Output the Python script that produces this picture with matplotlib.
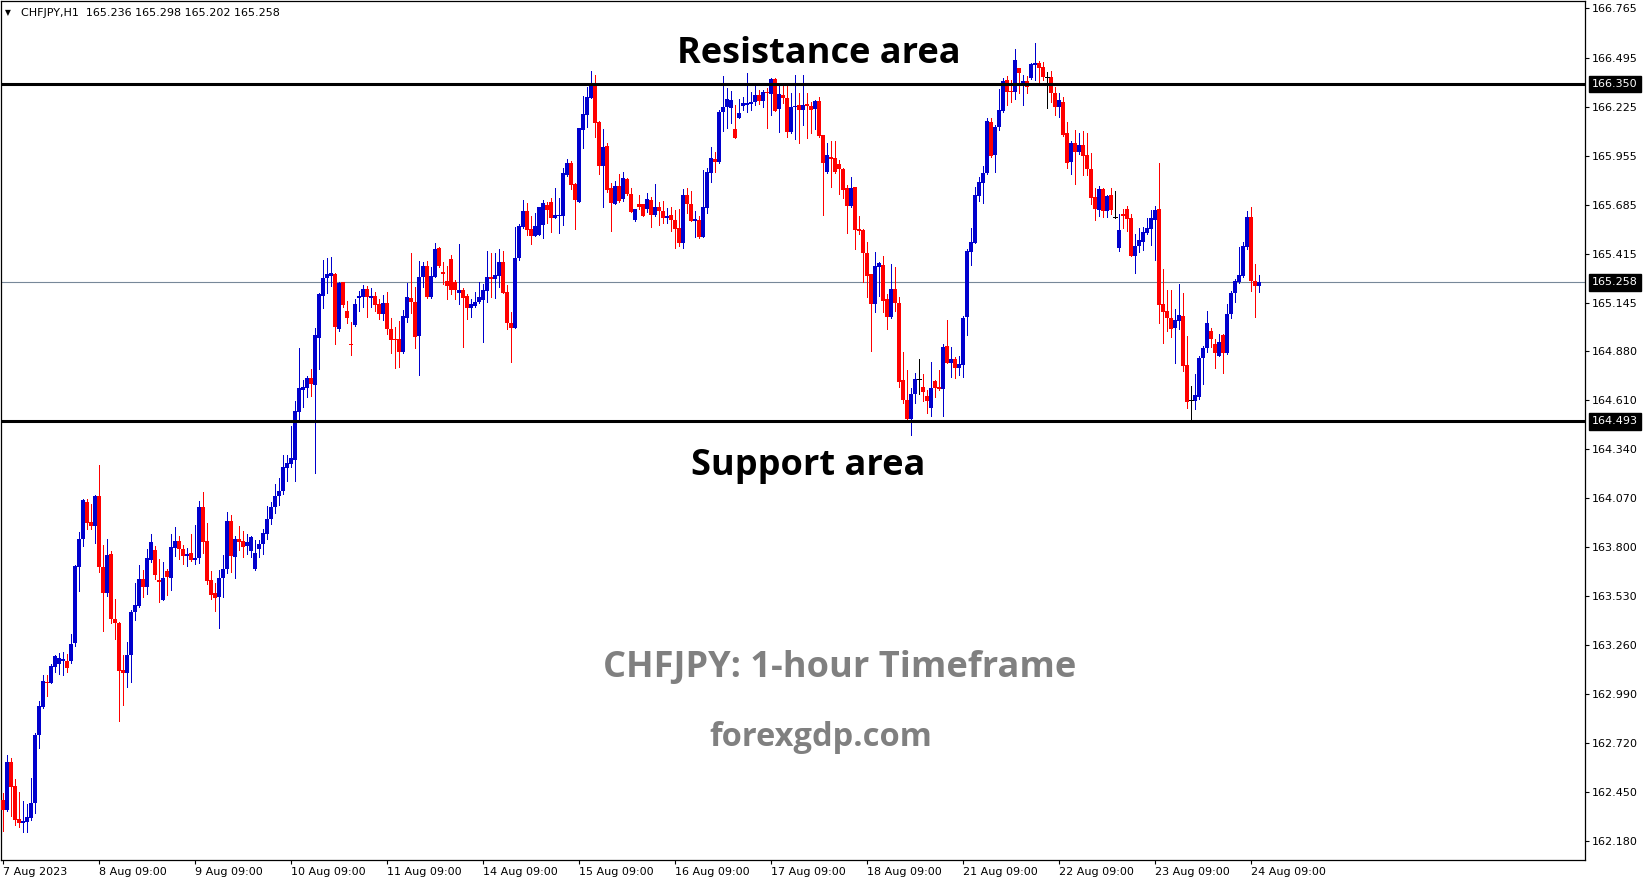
import numpy as np
import matplotlib
matplotlib.use("Agg")
import matplotlib.pyplot as plt
import matplotlib.transforms as mtransforms

# CHFJPY H1 candles, 7 Aug 2023 09:00 -> 24 Aug 2023 ~11:00
opens = [
    162.409, 162.354, 162.620, 162.486, 162.304, 162.284, 162.289, 162.308, 162.390, 162.766,
    162.922, 163.058, 163.054, 163.143, 163.155, 163.176, 163.174, 163.176, 163.271, 163.693,
    163.843, 164.051, 163.939, 163.919, 164.082, 163.693, 163.550, 163.763, 163.405, 163.385,
    163.124, 163.109, 163.207, 163.442, 163.478, 163.625, 163.583, 163.730, 163.785, 163.620,
    163.510, 163.669, 163.632, 163.798, 163.834, 163.790, 163.753, 163.766, 163.730, 163.739,
    164.023, 163.834, 163.620, 163.546, 163.528, 163.632, 163.678, 163.944, 163.748, 163.845,
    163.834, 163.807, 163.779, 163.678, 163.790, 163.818, 163.871, 163.955, 164.020, 164.080,
    164.110, 164.234, 164.257, 164.280, 164.546, 164.665, 164.677, 164.733, 164.692, 164.953,
    165.184, 165.279, 165.294, 165.303, 164.999, 165.257, 165.100, 164.918, 165.023, 165.173,
    165.175, 165.221, 165.173, 165.182, 165.138, 165.081, 165.145, 165.000, 164.946, 164.944,
    164.872, 165.063, 165.169, 165.151, 164.964, 165.285, 165.347, 165.178, 165.288, 165.444,
    165.316, 165.264, 165.384, 165.261, 165.200, 165.215, 165.182, 165.118, 165.127, 165.151,
    165.160, 165.211, 165.285, 165.276, 165.292, 165.371, 165.206, 165.035, 165.008, 165.393,
    165.560, 165.650, 165.551, 165.514, 165.518, 165.573, 165.683, 165.701, 165.610, 165.624,
    165.622, 165.848, 165.916, 165.799, 165.701, 166.096, 166.178, 166.274, 166.347, 166.142,
    165.898, 166.008, 165.775, 165.688, 165.788, 165.714, 165.824, 165.744, 165.600, 165.687,
    165.688, 165.661, 165.710, 165.628, 165.670, 165.652, 165.613, 165.628, 165.600, 165.555,
    165.472, 165.738, 165.688, 165.597, 165.600, 165.509, 165.668, 165.861, 165.936, 165.921,
    166.193, 166.224, 166.215, 166.101, 166.164, 166.230, 166.233, 166.239, 166.252, 166.288,
    166.257, 166.307, 166.294, 166.376, 166.209, 166.288, 166.274, 166.087, 166.224, 166.233,
    166.206, 166.239, 166.228, 166.211, 166.255, 166.068, 165.866, 165.945, 165.940, 165.909,
    165.881, 165.778, 165.678, 165.784, 165.551, 165.545, 165.417, 165.303, 165.136, 165.344,
    165.353, 165.166, 165.068, 165.221, 165.142, 164.720, 164.610, 164.503, 164.643, 164.725,
    164.680, 164.632, 164.564, 164.714, 164.680, 164.668, 164.907, 164.815, 164.834, 164.784,
    164.802, 165.065, 165.426, 165.476, 165.734, 165.806, 165.861, 166.142, 165.958, 166.114,
    166.202, 166.371, 166.310, 166.307, 166.439, 166.352, 166.365, 166.380, 166.453, 166.463,
    166.444, 166.389, 166.389, 166.300, 166.220, 166.250, 166.078, 165.922, 166.023, 165.977,
    166.013, 165.958, 165.881, 165.725, 165.656, 165.771, 165.652, 165.738, 165.619, 165.448,
    165.628, 165.661, 165.613, 165.402, 165.457, 165.481, 165.531, 165.551, 165.601, 165.661,
    165.138, 165.100, 165.059, 165.004, 165.047, 165.072, 164.803, 164.610, 164.606, 164.628,
    164.839, 164.895, 164.990, 164.918, 164.854, 164.968, 164.867, 165.081, 165.201, 165.261,
    165.294, 165.454, 165.619, 165.267, 165.236,
]
highs = [
    162.445, 162.656, 162.642, 162.524, 162.455, 162.405, 162.387, 162.532, 162.776, 162.954,
    163.097, 163.097, 163.157, 163.207, 163.216, 163.223, 163.212, 163.320, 163.700, 163.884,
    164.063, 164.063, 164.038, 164.087, 164.252, 163.812, 163.845, 163.779, 163.515, 163.390,
    163.207, 163.280, 163.454, 163.601, 163.702, 163.675, 163.790, 163.873, 163.807, 163.735,
    163.717, 163.680, 163.873, 163.909, 163.862, 163.812, 163.794, 163.873, 163.922, 164.054,
    164.104, 163.931, 163.669, 163.601, 163.675, 163.757, 163.996, 163.977, 163.862, 163.917,
    163.889, 163.873, 163.864, 163.840, 163.840, 163.898, 164.027, 164.050, 164.150, 164.180,
    164.307, 164.307, 164.467, 164.604, 164.898, 164.720, 164.742, 164.780, 165.004, 165.197,
    165.380, 165.393, 165.399, 165.307, 165.257, 165.261, 165.155, 165.037, 165.166, 165.211,
    165.243, 165.239, 165.224, 165.202, 165.164, 165.188, 165.202, 165.059, 165.013, 165.045,
    165.105, 165.256, 165.420, 165.233, 165.375, 165.371, 165.376, 165.343, 165.472, 165.453,
    165.371, 165.349, 165.408, 165.273, 165.468, 165.224, 165.193, 165.164, 165.202, 165.257,
    165.246, 165.432, 165.417, 165.417, 165.440, 165.429, 165.243, 165.096, 165.560, 165.580,
    165.711, 165.692, 165.622, 165.641, 165.674, 165.711, 165.701, 165.723, 165.778, 165.720,
    165.885, 165.936, 165.925, 165.802, 166.109, 166.285, 166.331, 166.422, 166.398, 166.147,
    166.101, 166.022, 165.802, 165.815, 165.854, 165.863, 165.830, 165.775, 165.661, 165.738,
    165.688, 165.751, 165.729, 165.799, 165.701, 165.707, 165.665, 165.670, 165.655, 165.661,
    165.771, 165.778, 165.760, 165.650, 165.622, 165.876, 165.888, 166.000, 165.976, 166.206,
    166.395, 166.329, 166.312, 166.233, 166.266, 166.276, 166.408, 166.307, 166.343, 166.316,
    166.316, 166.325, 166.384, 166.380, 166.349, 166.343, 166.343, 166.298, 166.400, 166.298,
    166.400, 166.298, 166.252, 166.261, 166.276, 166.068, 166.022, 166.035, 166.035, 165.931,
    165.885, 165.793, 165.835, 165.784, 165.622, 165.551, 165.478, 165.303, 165.423, 165.371,
    165.402, 165.193, 165.358, 165.340, 165.175, 164.876, 164.775, 164.674, 164.757, 164.834,
    164.753, 164.665, 164.821, 164.720, 164.775, 164.918, 165.050, 164.900, 164.845, 164.852,
    165.074, 165.440, 165.555, 165.784, 165.839, 165.898, 166.160, 166.160, 166.123, 166.320,
    166.384, 166.393, 166.371, 166.541, 166.439, 166.398, 166.393, 166.463, 166.573, 166.475,
    166.468, 166.417, 166.420, 166.330, 166.300, 166.280, 166.142, 166.037, 166.096, 166.078,
    166.090, 166.078, 165.968, 165.775, 165.788, 165.779, 165.738, 165.775, 165.760, 165.634,
    165.661, 165.678, 165.634, 165.522, 165.558, 165.560, 165.610, 165.656, 165.678, 165.912,
    165.331, 165.215, 165.215, 165.111, 165.248, 165.201, 164.964, 164.687, 164.753, 164.854,
    164.909, 165.100, 165.008, 164.944, 164.973, 164.973, 165.138, 165.210, 165.274, 165.454,
    165.481, 165.650, 165.674, 165.359, 165.298,
]
lows = [
    162.240, 162.350, 162.321, 162.271, 162.262, 162.234, 162.234, 162.299, 162.335, 162.693,
    162.913, 162.983, 163.051, 163.111, 163.100, 163.099, 163.115, 163.161, 163.258, 163.561,
    163.808, 163.898, 163.902, 163.825, 163.662, 163.341, 163.533, 163.381, 163.295, 162.845,
    162.932, 163.032, 163.060, 163.400, 163.473, 163.528, 163.543, 163.720, 163.625, 163.500,
    163.510, 163.537, 163.565, 163.752, 163.735, 163.708, 163.697, 163.726, 163.708, 163.715,
    163.770, 163.598, 163.515, 163.451, 163.357, 163.528, 163.660, 163.665, 163.632, 163.785,
    163.748, 163.763, 163.744, 163.675, 163.744, 163.763, 163.845, 163.930, 163.990, 164.030,
    164.090, 164.166, 164.243, 164.166, 164.500, 164.573, 164.624, 164.634, 164.210, 164.779,
    165.114, 165.197, 165.239, 164.918, 164.991, 165.120, 165.032, 164.857, 165.017, 165.101,
    165.123, 165.068, 165.123, 165.100, 165.056, 165.050, 164.971, 164.867, 164.784, 164.793,
    164.867, 165.041, 165.087, 164.894, 164.747, 165.233, 165.174, 165.169, 165.285, 165.340,
    165.248, 165.164, 165.193, 165.165, 165.141, 164.899, 165.055, 165.065, 165.123, 165.142,
    164.931, 165.151, 165.178, 165.173, 165.233, 165.197, 164.999, 164.821, 165.008, 165.380,
    165.555, 165.518, 165.468, 165.512, 165.518, 165.500, 165.582, 165.536, 165.610, 165.531,
    165.573, 165.844, 165.771, 165.551, 165.698, 165.999, 166.114, 166.270, 166.059, 165.854,
    165.674, 165.756, 165.540, 165.688, 165.701, 165.707, 165.738, 165.643, 165.595, 165.659,
    165.624, 165.646, 165.564, 165.624, 165.573, 165.582, 165.582, 165.540, 165.445, 165.459,
    165.448, 165.637, 165.595, 165.509, 165.500, 165.509, 165.637, 165.811, 165.863, 165.912,
    166.092, 166.109, 166.132, 166.050, 166.160, 166.206, 166.193, 166.206, 166.233, 166.239,
    166.220, 166.105, 166.178, 166.202, 166.087, 166.243, 166.059, 166.081, 166.044, 166.026,
    166.123, 166.053, 166.081, 166.101, 166.055, 165.628, 165.861, 165.784, 165.857, 165.744,
    165.720, 165.531, 165.674, 165.441, 165.523, 165.261, 165.179, 164.881, 165.096, 165.182,
    165.096, 164.999, 165.059, 165.101, 164.680, 164.591, 164.491, 164.417, 164.595, 164.641,
    164.606, 164.540, 164.523, 164.624, 164.665, 164.523, 164.812, 164.738, 164.729, 164.747,
    164.738, 164.967, 165.353, 165.472, 165.707, 165.696, 165.854, 165.949, 165.866, 166.096,
    166.197, 166.233, 166.252, 166.265, 166.298, 166.233, 166.298, 166.374, 166.371, 166.362,
    166.371, 166.219, 166.250, 166.180, 166.170, 166.063, 165.889, 165.854, 165.799, 165.964,
    165.848, 165.848, 165.689, 165.601, 165.623, 165.619, 165.619, 165.632, 165.610, 165.430,
    165.558, 165.540, 165.402, 165.311, 165.426, 165.435, 165.522, 165.463, 165.380, 165.036,
    164.925, 164.991, 164.958, 164.815, 164.999, 164.771, 164.568, 164.500, 164.559, 164.614,
    164.696, 164.873, 164.904, 164.784, 164.854, 164.760, 164.863, 165.060, 165.151, 165.256,
    165.289, 165.441, 165.212, 165.065, 165.202,
]
closes = [
    162.354, 162.620, 162.482, 162.299, 162.284, 162.293, 162.313, 162.390, 162.766, 162.926,
    163.065, 163.054, 163.146, 163.201, 163.188, 163.185, 163.137, 163.267, 163.697, 163.845,
    164.060, 163.935, 163.919, 164.082, 163.693, 163.550, 163.757, 163.405, 163.381, 163.120,
    163.106, 163.207, 163.445, 163.482, 163.623, 163.583, 163.739, 163.831, 163.647, 163.610,
    163.632, 163.634, 163.799, 163.834, 163.788, 163.753, 163.763, 163.730, 163.739, 164.023,
    163.831, 163.614, 163.537, 163.522, 163.632, 163.680, 163.946, 163.752, 163.845, 163.831,
    163.803, 163.831, 163.858, 163.770, 163.818, 163.880, 163.955, 164.020, 164.080, 164.110,
    164.243, 164.265, 164.289, 164.549, 164.677, 164.683, 164.729, 164.698, 164.968, 165.193,
    165.283, 165.301, 165.307, 165.013, 165.252, 165.133, 165.063, 164.912, 165.138, 165.182,
    165.219, 165.178, 165.182, 165.133, 165.081, 165.145, 165.000, 164.940, 164.940, 164.876,
    165.072, 165.175, 165.151, 164.958, 165.285, 165.347, 165.178, 165.292, 165.440, 165.349,
    165.303, 165.239, 165.215, 165.218, 165.218, 165.173, 165.118, 165.136, 165.151, 165.175,
    165.215, 165.285, 165.276, 165.298, 165.371, 165.200, 165.035, 165.008, 165.393, 165.567,
    165.650, 165.545, 165.514, 165.567, 165.670, 165.692, 165.655, 165.610, 165.628, 165.628,
    165.861, 165.916, 165.793, 165.711, 166.109, 166.184, 166.276, 166.347, 166.136, 165.898,
    166.004, 165.766, 165.696, 165.788, 165.707, 165.830, 165.744, 165.646, 165.661, 165.674,
    165.624, 165.716, 165.628, 165.670, 165.652, 165.613, 165.622, 165.600, 165.549, 165.476,
    165.738, 165.687, 165.597, 165.606, 165.509, 165.670, 165.866, 165.943, 165.921, 166.197,
    166.224, 166.265, 166.261, 166.050, 166.191, 166.246, 166.242, 166.252, 166.288, 166.255,
    166.307, 166.298, 166.376, 166.202, 166.294, 166.270, 166.087, 166.221, 166.228, 166.206,
    166.233, 166.230, 166.206, 166.255, 166.065, 165.912, 165.958, 165.934, 165.866, 165.879,
    165.766, 165.678, 165.778, 165.545, 165.542, 165.417, 165.292, 165.138, 165.347, 165.362,
    165.157, 165.065, 165.221, 165.142, 164.711, 164.610, 164.503, 164.643, 164.725, 164.725,
    164.656, 164.604, 164.674, 164.678, 164.670, 164.900, 164.815, 164.834, 164.784, 164.806,
    165.059, 165.430, 165.477, 165.738, 165.808, 165.861, 166.147, 165.953, 166.114, 166.206,
    166.367, 166.307, 166.303, 166.481, 166.408, 166.367, 166.334, 166.457, 166.463, 166.439,
    166.389, 166.389, 166.300, 166.220, 166.260, 166.068, 165.916, 166.026, 165.977, 166.013,
    165.955, 165.879, 165.724, 165.659, 165.771, 165.652, 165.733, 165.656, 165.619, 165.546,
    165.625, 165.606, 165.402, 165.457, 165.491, 165.536, 165.558, 165.613, 165.656, 165.133,
    165.092, 165.059, 165.001, 165.050, 165.078, 164.799, 164.601, 164.610, 164.638, 164.843,
    164.898, 165.032, 164.944, 164.867, 164.928, 164.867, 165.083, 165.201, 165.265, 165.298,
    165.459, 165.619, 165.267, 165.239, 165.258,
]

date_labels = ["7 Aug 2023", "8 Aug 09:00", "9 Aug 09:00", "10 Aug 09:00", "11 Aug 09:00",
               "14 Aug 09:00", "15 Aug 09:00", "16 Aug 09:00", "17 Aug 09:00", "18 Aug 09:00",
               "21 Aug 09:00", "22 Aug 09:00", "23 Aug 09:00", "24 Aug 09:00"]
price_ticks = [166.765, 166.495, 166.225, 165.955, 165.685, 165.415, 165.145, 164.880, 164.610,
               164.340, 164.070, 163.800, 163.530, 163.260, 162.990, 162.720, 162.450, 162.180]
resistance = 166.350
support = 164.493
last_price = 165.258

o = np.array(opens); h = np.array(highs); l = np.array(lows); c = np.array(closes)
x = np.arange(len(c))
up = c > o
dn = c < o
dj = c == o

BLUE = "#0000cd"
RED = "#ff0000"

W, H = 1649, 884
fig = plt.figure(figsize=(W / 100, H / 100), dpi=100)
ax = fig.add_axes([1 / W, (H - 860) / H, 1584 / W, 859 / H])

# wicks (1 px)
wick_col = np.where(up, BLUE, np.where(dn, RED, "black"))
ax.vlines(x, l, h, colors=wick_col, linewidth=0.72, antialiased=False, zorder=3)
# bodies (3 px)
body = np.maximum(np.abs(c - o), 0.006)
bottom = np.minimum(o, c)
ax.bar(x[up], body[up], bottom=bottom[up], width=0.8, color=BLUE, linewidth=0,
       antialiased=False, zorder=4)
ax.bar(x[dn], body[dn], bottom=bottom[dn], width=0.8, color=RED, linewidth=0,
       antialiased=False, zorder=4)
ax.hlines(c[dj], x[dj] - 0.4, x[dj] + 0.4, colors="black", linewidth=0.72,
          antialiased=False, zorder=4)

# levels
ax.axhline(resistance, color="black", linewidth=2.2, zorder=5)
ax.axhline(support, color="black", linewidth=2.2, zorder=5)
ax.axhline(last_price, color="#778899", linewidth=0.8, zorder=2)

ax.set_xlim(-0.5, 395.5)
ax.set_ylim(162.078, 166.806)

ax.yaxis.tick_right()
ax.set_yticks(price_ticks)
ax.set_yticklabels([f"{v:.3f}" for v in price_ticks])
ax.tick_params(axis="y", length=3, width=0.8, pad=2, labelsize=8, colors="black")
ax.set_xticks(np.arange(0, 24 * len(date_labels), 24))
ax.set_xticklabels(date_labels, ha="left")
ax.tick_params(axis="x", length=3, width=0.8, pad=2, labelsize=8)
for s in ax.spines.values():
    s.set_linewidth(0.9)
    s.set_color("black")

# price tags on the right axis
trans = mtransforms.blended_transform_factory(ax.transAxes, ax.transData)
for v in [resistance, last_price, support]:
    ax.text(1 + 7 / 1584, v, f"{v:.3f}", transform=trans, ha="left", va="center",
            fontsize=8, color="white", zorder=10, clip_on=False,
            bbox=dict(boxstyle="square,pad=0.3", fc="black", ec="black"))

fig.text(5 / W, 1 - 12.5 / H, "▼", fontsize=5.5, va="center", ha="left")
fig.text(21 / W, 1 - 12.5 / H, "CHFJPY,H1  165.236 165.298 165.202 165.258",
         fontsize=8, va="center", ha="left")

fig.text(819 / W, 1 - 54 / H, "Resistance area", fontsize=26, fontweight="bold",
         family="Open Sans", ha="center", va="center", color="black")
fig.text(808 / W, 1 - 466 / H, "Support area", fontsize=26, fontweight="bold",
         family="Open Sans", ha="center", va="center", color="black")
fig.text(840 / W, 1 - 668 / H, "CHFJPY: 1-hour Timeframe", fontsize=26, fontweight="bold",
         family="Open Sans", ha="center", va="center", color="#808080")
fig.text(821 / W, 1 - 738 / H, "forexgdp.com", fontsize=23.5, fontweight="bold",
         family="Open Sans", ha="center", va="center", color="#808080")

fig.savefig("out.png", dpi=100)
